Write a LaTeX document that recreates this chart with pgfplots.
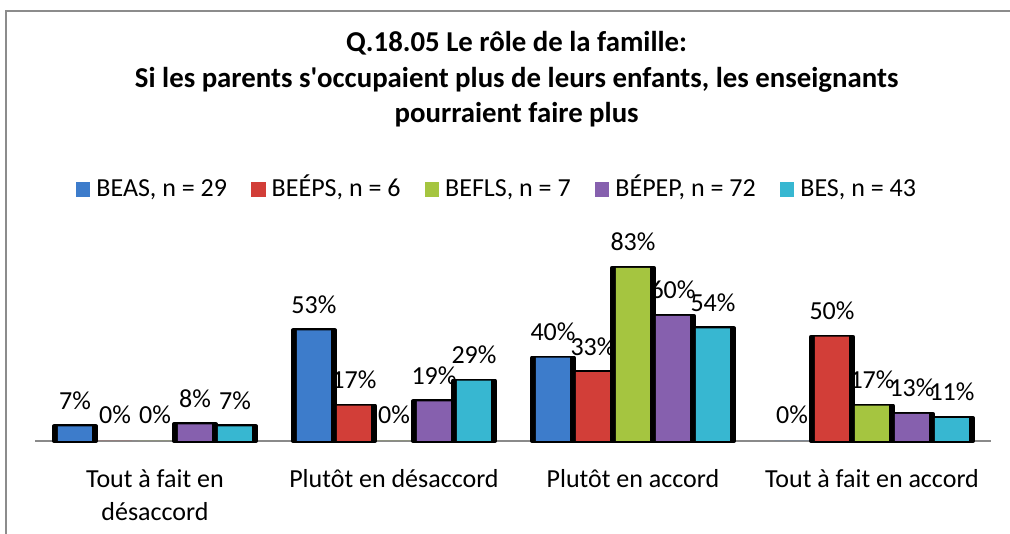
\documentclass[border=0pt]{standalone}
\usepackage{fontspec}
\setmainfont{Carlito}
\usepackage{pgfplots}
\pgfplotsset{compat=1.18}

\definecolor{frame}{HTML}{8C8C8C}
\definecolor{axgray}{HTML}{8A8A8A}
\definecolor{cB}{HTML}{3D7CCB}
\definecolor{cR}{HTML}{D23E38}
\definecolor{cG}{HTML}{A5C540}
\definecolor{cP}{HTML}{8660AE}
\definecolor{cC}{HTML}{37B7D1}

\pgfplotsset{
  shadowbar/.style={forget plot, bar shift=#1, bar width=31.5pt, fill=black, draw=black,
    line width=3pt, line join=round, y filter/.expression={y==0 ? nan : y}},
  colbar/.style 2 args={bar shift=#1, draw=none, fill=#2,
    nodes near coords={\pgfmathprintnumber{\pgfplotspointmeta}\%},
    every node near coord/.append style={anchor=south, inner sep=0pt, yshift=12.5pt, text=black}},
}

\begin{document}
\fontsize{19.5}{24.75}\selectfont
\begin{tikzpicture}[x=1pt,y=1pt]
\useasboundingbox (0,0) rectangle (757.5,400.5);
\draw[frame, line width=1.5pt] (4.5,0) -- (4.5,392.25) -- (757.5,392.25);
\node[align=center, font=\bfseries\fontsize{21.6}{26.4}\selectfont] at (387.5,341)
  {Q.18.05 Le rôle de la famille:\\Si les parents s\textquotesingle occupaient plus de leurs enfants, les enseignants\\pourraient faire plus};

\begin{axis}[
    at={(26.6pt,69.75pt)}, anchor=south west,
    scale only axis, width=717pt, height=156.4pt,
    xmin=-0.5, xmax=3.5, ymin=0, ymax=100,
    axis y line=none, axis x line*=bottom,
    x axis line style={draw=axgray, line width=1.5pt},
    xtick={0,1,2,3},
    xticklabels={{Tout à fait en\\désaccord}, {Plutôt en désaccord}, {Plutôt en accord}, {Tout à fait en accord}},
    major tick length=0pt,
    xticklabel style={align=center, inner sep=0pt, anchor=north, yshift=-21.5pt},
    ybar, bar width=25.5pt, clip=false,
    /pgf/number format/assume math mode=true,
    legend columns=5,
    legend style={draw=none, fill=none, at={(0.483,1.204)}, anchor=center, inner sep=0pt,
      nodes={inner sep=2pt, text height=14pt, text depth=4pt},
      /tikz/every even column/.append style={column sep=16pt}},
    legend image code/.code={\fill[#1] (0pt,-5pt) rectangle (11pt,6pt); \path (13.5pt,0pt);},
]
% shadows
\addplot[shadowbar=-60pt] coordinates {(0,7) (1,53) (2,40) (3,0)};
\addplot[shadowbar=-30pt] coordinates {(0,0) (1,17) (2,33) (3,50)};
\addplot[shadowbar=0pt]   coordinates {(0,0) (1,0) (2,83) (3,17)};
\addplot[shadowbar=30pt]  coordinates {(0,8) (1,19) (2,60) (3,13)};
\addplot[shadowbar=60pt]  coordinates {(0,7) (1,29) (2,54) (3,11)};
% bars
\addplot[colbar={-60pt}{cB}] coordinates {(0,7) (1,53) (2,40) (3,0)};
\addplot[colbar={-30pt}{cR}] coordinates {(0,0) (1,17) (2,33) (3,50)};
\addplot[colbar={0pt}{cG}]   coordinates {(0,0) (1,0) (2,83) (3,17)};
\addplot[colbar={30pt}{cP}]  coordinates {(0,8) (1,19) (2,60) (3,13)};
\addplot[colbar={60pt}{cC}]  coordinates {(0,7) (1,29) (2,54) (3,11)};
\legend{BEAS{,} n = 29, BEÉPS{,} n = 6, BEFLS{,} n = 7, BÉPEP{,} n = 72, BES{,} n = 43}
\end{axis}
\end{tikzpicture}
\end{document}
